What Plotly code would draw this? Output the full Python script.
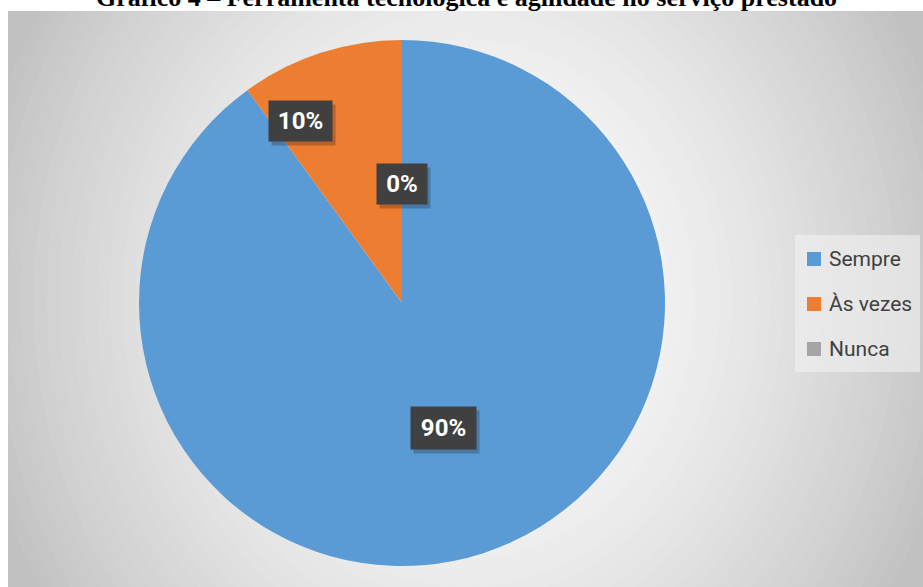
import plotly.graph_objects as go

# ---- data ----
categories = ["Sempre", "Às vezes", "Nunca"]
values = [90, 10, 0]
label_texts = ["90%", "10%", "0%"]
title_text = "Gráfico 4 – Ferramenta tecnológica e agilidade no serviço prestado"

# ---- style ----
W, H = 923, 587
colors = ["#5B9BD5", "#ED7D31", "#A5A5A5"]
pie_cx, pie_cy, pie_r = 402, 303, 263
# label box centers (px) and sizes
label_pos = [(443.5, 428), (300.5, 120.5), (402, 184)]
label_size = [(65, 42), (63, 40), (50, 40)]
chart_x0, chart_y0 = 8, 11
legend_box = (795, 235, 920, 372)
legend_y = [259, 304, 349]
legend_sq_x = 814
legend_text_x = 827


def px(x):
    return x / W


def py(y):
    return 1 - y / H


fig = go.Figure()
fig.add_trace(go.Pie(
    labels=categories,
    values=values,
    marker=dict(colors=colors, line=dict(width=0)),
    sort=False,
    direction="clockwise",
    rotation=0,
    textinfo="none",
    hoverinfo="label+percent",
    showlegend=False,
    domain=dict(x=[px(pie_cx - pie_r), px(pie_cx + pie_r)],
                y=[py(pie_cy + pie_r), py(pie_cy - pie_r)]),
))

shapes = []
# radial-ish gradient background
cx = (chart_x0 + W) / 2
cy = (chart_y0 + H) / 2
rx = (W - chart_x0) / 2
ry = (H - chart_y0) / 2 * 1.8
N = 45
for k in range(N, 0, -1):
    r = 1.25 * k / N
    c = int(round(max(192, 255 - 52 * r ** 1.6)))
    shapes.append(dict(type="circle", xref="paper", yref="paper", layer="below",
                       x0=px(cx - rx * r), x1=px(cx + rx * r),
                       y0=py(cy + ry * r), y1=py(cy - ry * r),
                       fillcolor=f"rgb({c},{c},{c})", line=dict(width=0)))
# white outside chart area
shapes.append(dict(type="rect", xref="paper", yref="paper", layer="below",
                   x0=-0.1, x1=1.1, y0=py(chart_y0), y1=1.1,
                   fillcolor="white", line=dict(width=0)))
shapes.append(dict(type="rect", xref="paper", yref="paper", layer="below",
                   x0=-0.1, x1=px(chart_x0), y0=-0.1, y1=1.1,
                   fillcolor="white", line=dict(width=0)))
# legend box
lx0, ly0, lx1, ly1 = legend_box
shapes.append(dict(type="rect", xref="paper", yref="paper", layer="below",
                   x0=px(lx0), x1=px(lx1), y0=py(ly1), y1=py(ly0),
                   fillcolor="rgba(242,242,242,0.6)", line=dict(width=0)))
annotations = []
for cat, col, yy in zip(categories, colors, legend_y):
    shapes.append(dict(type="rect", xref="paper", yref="paper", layer="below",
                       x0=px(legend_sq_x - 7), x1=px(legend_sq_x + 7),
                       y0=py(yy + 7), y1=py(yy - 7),
                       fillcolor=col, line=dict(width=0)))
    annotations.append(dict(x=px(legend_text_x), y=py(yy), xref="paper", yref="paper",
                            text=cat, showarrow=False, xanchor="left", yanchor="middle",
                            font=dict(family="Roboto", size=21, color="#404040")))

# data labels with shadow
for txt, (lx, ly), (bw, bh) in zip(label_texts, label_pos, label_size):
    annotations.append(dict(x=px(lx), y=py(ly), xref="paper", yref="paper",
                            text=txt, showarrow=False, xanchor="center", yanchor="middle",
                            xshift=3, yshift=-4, width=bw, height=bh, borderpad=0,
                            bgcolor="rgba(0,0,0,0.22)",
                            font=dict(family="Roboto", size=24, color="rgba(0,0,0,0)")))
    annotations.append(dict(x=px(lx), y=py(ly), xref="paper", yref="paper",
                            text=f"<b>{txt}</b>", showarrow=False, xanchor="center",
                            yanchor="middle", width=bw, height=bh, borderpad=0,
                            bgcolor="#404040",
                            font=dict(family="Roboto", size=24, color="white")))

# title
annotations.append(dict(x=px(466), y=py(-3), xref="paper", yref="paper",
                        text=f"<b>{title_text}</b>", showarrow=False,
                        xanchor="center", yanchor="middle",
                        font=dict(family="Liberation Serif", size=26, color="black")))

fig.update_layout(
    width=W, height=H,
    margin=dict(l=0, r=0, t=0, b=0),
    paper_bgcolor="white",
    plot_bgcolor="white",
    shapes=shapes,
    annotations=annotations,
    showlegend=False,
)

fig.write_html("out.html",
               config={"displayModeBar": False},
               post_script="document.body.style.margin='0';document.body.style.overflow='hidden';")
